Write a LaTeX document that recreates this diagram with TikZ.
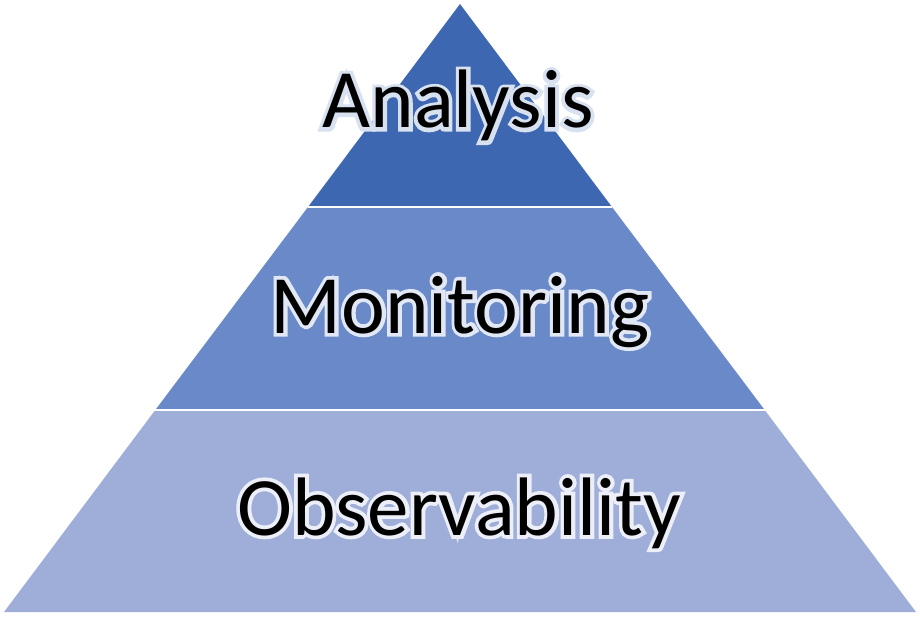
\documentclass[tikz,border=0pt]{standalone}
\usepackage{fontspec}
\setmainfont{Carlito}
\definecolor{layerA}{RGB}{62,103,177}
\definecolor{layerB}{RGB}{106,137,200}
\definecolor{layerC}{RGB}{158,174,216}
\tikzset{
  lbl/.style={anchor=base, inner sep=0pt, font=\fontsize{83}{100}\selectfont, text=black},
}
\newcommand\haloed[2]{%
  \rlap{\addfontfeature{FakeBold=9}\color{white!80!#2}#1}#1}
\begin{document}
\begin{tikzpicture}[x=1pt,y=-1pt]
\useasboundingbox (0,0) rectangle (920,617);
% pyramid layers
\fill[layerC] (4,612) -- (916,612) -- (764.7,410) -- (155.3,410) -- cycle;
\fill[layerB] (155.3,410) -- (764.7,410) -- (612,207) -- (308,207) -- cycle;
\fill[layerA] (308,207) -- (612,207) -- (460,4) -- cycle;
\draw[white, line width=1.5pt] (155.3,410) -- (764.7,410);
\draw[white, line width=1.5pt] (308,207) -- (612,207);
% labels
\node[lbl] (analysis) at (458,128) {\haloed{Analysis}{layerA}};
\node[lbl] (monitoring) at (460,333) {\haloed{Monitoring}{layerB}};
\node[lbl] (observability) at (459,535) {\haloed{Observability}{layerC}};
\end{tikzpicture}
\end{document}
